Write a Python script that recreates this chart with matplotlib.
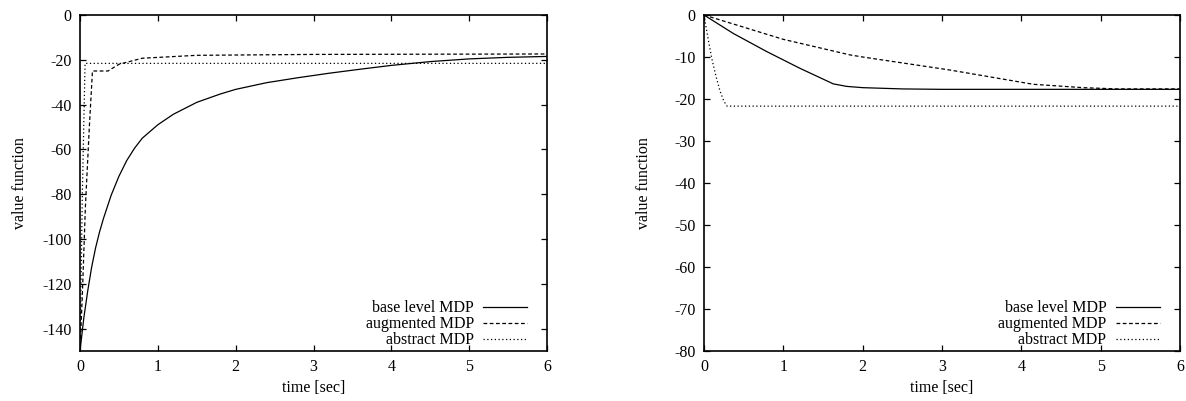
import matplotlib
matplotlib.use("Agg")
import matplotlib.pyplot as plt

# ---- data: left panel ----
t_base_L = [0, 0.05, 0.1, 0.15, 0.2, 0.25, 0.3, 0.4, 0.5, 0.6, 0.7, 0.8, 1.0, 1.2, 1.5, 1.8, 2.0, 2.4, 2.8, 3.2, 3.6, 4.0, 4.5, 5.0, 5.5, 6.0]
v_base_L = [-150, -135, -123, -112.5, -104, -97, -91, -80.5, -72, -65, -59.5, -55, -49, -44.3, -39, -35.3, -33.2, -30.2, -28, -26, -24.2, -22.5, -20.8, -19.6, -18.9, -18.5]
t_aug_L = [0, 0.03, 0.07, 0.12, 0.16, 0.36, 0.5, 0.8, 1.5, 3.0, 6.0]
v_aug_L = [-150, -125, -85, -50, -25, -25, -22, -19.3, -18.0, -17.6, -17.4]
t_abs_L = [0, 0.03, 0.065, 6.0]
v_abs_L = [-150, -80, -21.6, -21.6]

# ---- data: right panel ----
t_base_R = [0, 0.37, 0.79, 1.21, 1.63, 1.8, 2.0, 2.5, 3.0, 6.0]
v_base_R = [0, -4.4, -8.7, -12.7, -16.4, -17.0, -17.3, -17.6, -17.7, -17.7]
t_aug_R = [0, 1.0, 1.84, 2.0, 3.1, 4.15, 4.78, 5.2, 6.0]
v_aug_R = [0, -5.8, -9.5, -10.0, -13.1, -16.5, -17.3, -17.6, -17.6]
t_abs_R = [0, 0.05, 0.1, 0.15, 0.2, 0.25, 0.29, 6.0]
v_abs_R = [0, -5.5, -10.5, -14.5, -18.0, -20.5, -21.7, -21.7]

labels = ["base level MDP", "augmented MDP", "abstract MDP"]
xticks = [0, 1, 2, 3, 4, 5, 6]
yticks_L = [0, -20, -40, -60, -80, -100, -120, -140]
yticks_R = [0, -10, -20, -30, -40, -50, -60, -70, -80]

plt.rcParams['font.family'] = ['Liberation Serif', 'DejaVu Serif']
plt.rcParams['font.size'] = 11.5
plt.rcParams['axes.unicode_minus'] = False

fig = plt.figure(figsize=(11.86, 4.01), dpi=100)
axL = fig.add_axes([80/1186, 1-351/401, 467/1186, 336/401])
axR = fig.add_axes([704/1186, 1-351/401, 476/1186, 336/401])

styles = [dict(ls='-'), dict(ls=(0, (3, 2))), dict(ls=(0, (1, 2)))]

def draw(ax, data, yl, yt, ylpad):
    for (t, v), lab, st in zip(data, labels, styles):
        ax.plot(t, v, color='black', lw=0.9, label=lab, **st)
    ax.set_xlim(0, 6)
    ax.set_ylim(*yl)
    ax.set_xticks(xticks)
    ax.set_yticks(yt)
    ax.tick_params(direction='in', top=True, right=True, length=4, width=0.9, pad=6)
    for s in ax.spines.values():
        s.set_linewidth(1.2)
    ax.set_xlabel("time [sec]", labelpad=3)
    ax.set_ylabel("value function", labelpad=ylpad)
    ax.legend(loc='lower right', frameon=False, markerfirst=False,
              handlelength=2.75, handletextpad=0.6, labelspacing=0.0,
              borderaxespad=0.0, borderpad=0.3, bbox_to_anchor=(0.968, -0.006))

draw(axL, [(t_base_L, v_base_L), (t_aug_L, v_aug_L), (t_abs_L, v_abs_L)], (-150, 0), yticks_L, 10)
draw(axR, [(t_base_R, v_base_R), (t_aug_R, v_aug_R), (t_abs_R, v_abs_R)], (-80, 0), yticks_R, 16)

fig.savefig("out.png", dpi=100)
